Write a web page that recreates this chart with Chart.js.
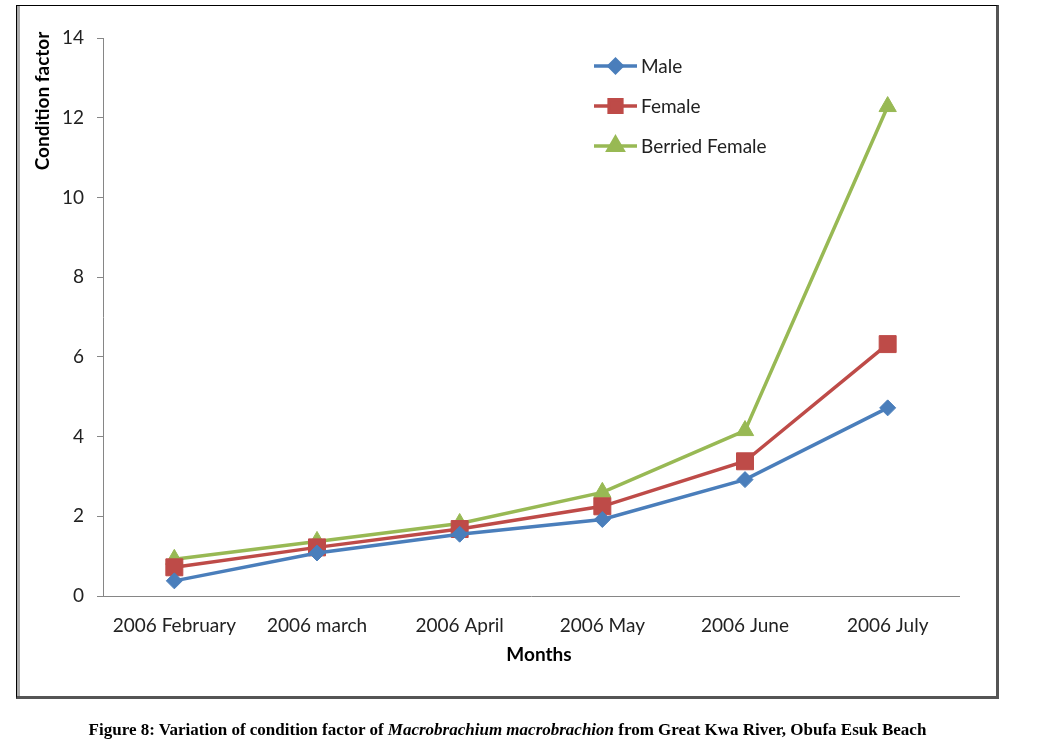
<!DOCTYPE html>
<html>
<head>
<meta charset="utf-8">
<script src="https://cdn.jsdelivr.net/npm/chart.js@4.4.1/dist/chart.umd.min.js"></script>
<style>
  html,body{margin:0;padding:0;background:#fff;width:1037px;height:744px;overflow:hidden;}
  #box{position:absolute;left:16px;top:5px;width:979px;height:690px;border-left:1px solid #000;border-top:1px solid #000;border-right:3px solid #555;border-bottom:3px solid #555;box-shadow:inset 3px 0 0 #aaa;}
  #c{position:absolute;left:0;top:0;z-index:2;}
  #cap{position:absolute;left:0;width:1037px;top:720px;text-align:center;font-family:"Liberation Serif","Times New Roman",serif;font-weight:bold;font-size:17px;color:#000;z-index:3;margin-left:-11px;}
</style>
</head>
<body>
<div id="box"></div>
<canvas id="c" width="1037" height="744"></canvas>
<div id="cap">Figure 8: Variation of condition factor of <i>Macrobrachium macrobrachion</i> from Great Kwa River, Obufa Esuk Beach</div>
<script>
const categories = ["2006 February","2006 march","2006 April","2006 May","2006 June","2006 July"];
const maleValues = [0.38, 1.08, 1.55, 1.92, 2.92, 4.72];
const femaleValues = [0.72, 1.22, 1.68, 2.25, 3.38, 6.32];
const berriedValues = [0.92, 1.37, 1.82, 2.60, 4.15, 12.28];
const seriesNames = ["Male","Female","Berried Female"];
const yTicks = [0,2,4,6,8,10,12,14];

const colors = ["#4A7EBB","#BE4B48","#98B954"];
const styles = ["rectRot","rect","triangle"];
const radii = [8,12,10];
const legendRadii = [6.5,9,8.5];

const FONT = "Lato, 'Open Sans', sans-serif";

const annot = {
  id:'annot',
  afterDraw(chart){
    const ctx = chart.ctx;
    ctx.save();
    ctx.fillStyle = '#000';
    ctx.font = "bold 19px " + FONT;
    ctx.textAlign = 'center';
    ctx.textBaseline = 'middle';
    ctx.save();
    ctx.translate(43, 101);
    ctx.rotate(-Math.PI/2);
    ctx.fillText("Condition factor", 0, 0);
    ctx.restore();
    ctx.fillText("Months", 539, 655);
    ctx.font = "19px " + FONT;
    ctx.textAlign = 'left';
    const ys = [66,106,146];
    chart.data.datasets.forEach((ds,i)=>{
      const y = ys[i];
      ctx.strokeStyle = ds.borderColor;
      ctx.lineWidth = 3.5;
      ctx.beginPath();
      ctx.moveTo(594,y); ctx.lineTo(637,y); ctx.stroke();
      ctx.fillStyle = ds.borderColor;
      Chart.helpers.drawPoint(ctx,{pointStyle:ds.pointStyle,radius:legendRadii[i],borderWidth:1,rotation:0},615.5,y);
      ctx.fillStyle = '#222';
      ctx.fillText(ds.label, 641, y+1);
    });
    ctx.restore();
  }
};

const datasets = [maleValues,femaleValues,berriedValues].map((vals,i)=>({
  label: seriesNames[i],
  data: vals,
  borderColor: colors[i],
  backgroundColor: colors[i],
  pointBackgroundColor: colors[i],
  pointBorderColor: colors[i],
  pointStyle: styles[i],
  pointRadius: radii[i],
  pointBorderWidth: 1,
  borderWidth: 3.5,
  tension: 0,
  fill: false
}));

new Chart(document.getElementById('c'), {
  type:'line',
  data:{labels:categories, datasets:datasets},
  plugins:[annot],
  options:{
    responsive:false,
    animation:false,
    layout:{padding:{left:0,top:38,right:78,bottom:0}},
    plugins:{legend:{display:false},tooltip:{enabled:false},title:{display:false}},
    scales:{
      x:{
        type:'category',
        offset:true,
        afterFit(s){ s.height = 148; },
        grid:{display:true,drawOnChartArea:false,drawTicks:false},
        border:{display:true,color:'#868686',width:1},
        ticks:{color:'#222',font:{family:FONT,size:19},padding:18,maxRotation:0,autoSkip:false}
      },
      y:{
        min:0,max:14,
        afterFit(s){ s.width = 103; },
        afterBuildTicks(s){ s.ticks = yTicks.map(v=>({value:v})); },
        grid:{display:true,drawOnChartArea:false,drawTicks:true,tickLength:6,color:'#868686'},
        border:{display:true,color:'#868686',width:1},
        ticks:{color:'#222',font:{family:FONT,size:19},padding:13}
      }
    }
  }
});
</script>
</body>
</html>
